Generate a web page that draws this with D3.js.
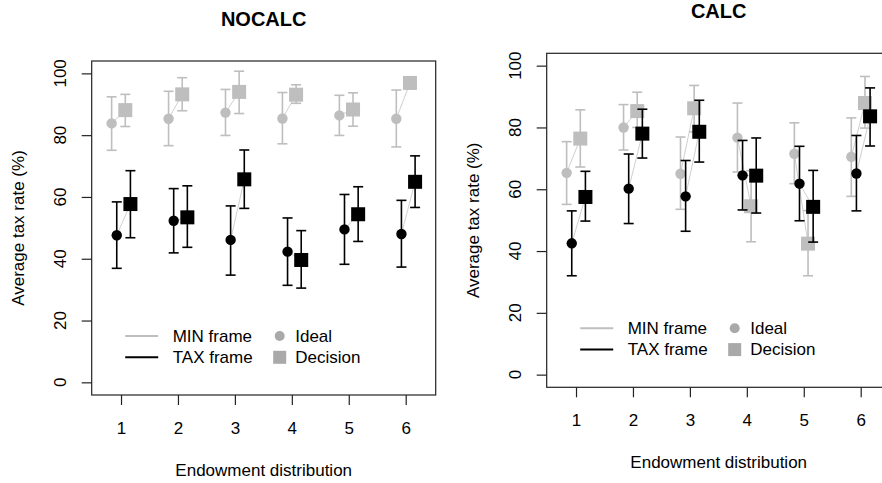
<!DOCTYPE html>
<html>
<head>
<meta charset="utf-8">
<script src="https://cdn.jsdelivr.net/npm/d3@7"></script>
<style>
  body { margin: 0; background: #fff; }
  text { font-family: "Liberation Sans", Arial, sans-serif; }
</style>
</head>
<body>
<div id="chart"></div>
<script>
// Endowment distributions on the x axis
const categories = [1, 2, 3, 4, 5, 6];
const yTicks = [0, 20, 40, 60, 80, 100];

// NOCALC panel
const nocalcMinIdeal = [83.8, 85.3, 87.3, 85.4, 86.4, 85.3];
const nocalcMinIdealLo = [75.1, 76.6, 79.9, 77.2, 79.9, 76.2];
const nocalcMinIdealHi = [92.4, 94.2, 94.8, 93.8, 92.9, 94.6];
const nocalcMinDecision = [88.1, 93.2, 94.0, 93.1, 88.3, 96.9];
const nocalcMinDecisionLo = [82.8, 87.9, 87.0, 90.3, 82.9, 95.5];
const nocalcMinDecisionHi = [93.2, 98.6, 100.7, 96.3, 93.7, 98.3];
const nocalcTaxIdeal = [47.6, 52.3, 46.1, 42.3, 49.5, 48.0];
const nocalcTaxIdealLo = [36.9, 41.9, 34.7, 31.4, 38.2, 37.3];
const nocalcTaxIdealHi = [58.4, 62.7, 57.1, 53.2, 60.8, 58.9];
const nocalcTaxDecision = [57.7, 53.4, 65.7, 39.6, 54.4, 64.9];
const nocalcTaxDecisionLo = [46.8, 43.7, 56.3, 30.5, 45.6, 56.6];
const nocalcTaxDecisionHi = [68.5, 63.6, 75.2, 49.1, 63.3, 73.3];

// CALC panel
const calcMinIdeal = [65.3, 80.0, 65.0, 76.7, 71.5, 70.5];
const calcMinIdealLo = [55.1, 72.7, 53.5, 65.6, 61.8, 57.7];
const calcMinIdealHi = [75.4, 87.4, 76.9, 87.9, 81.5, 83.1];
const calcMinDecision = [76.4, 85.3, 86.2, 54.5, 42.4, 87.9];
const calcMinDecisionLo = [67.2, 80.0, 78.6, 43.0, 32.0, 79.8];
const calcMinDecisionHi = [85.7, 91.4, 93.6, 66.0, 53.1, 96.5];
const calcTaxIdeal = [42.5, 60.2, 57.7, 64.5, 61.8, 65.1];
const calcTaxIdealLo = [32.0, 48.9, 46.4, 53.3, 49.8, 53.0];
const calcTaxIdealHi = [53.0, 71.4, 69.3, 75.8, 73.9, 77.4];
const calcTaxDecision = [57.5, 78.0, 78.6, 64.4, 54.3, 83.6];
const calcTaxDecisionLo = [49.7, 70.1, 68.8, 52.3, 42.9, 74.0];
const calcTaxDecisionHi = [65.8, 85.9, 88.8, 76.6, 66.1, 92.8];

const W = 882, H = 483;
const plotW = 344, plotH = 334;
const grey = '#bebebe';
const legendGrey = '#a9a9a9';

const svg = d3.select('#chart')
    .append('svg')
    .attr('width', W)
    .attr('height', H);

function series(vals, lo, hi) {
    return categories.map((c, i) => ({ c, v: vals[i], lo: lo[i], hi: hi[i] }));
}

function drawPanel(left, top, title, frames) {
    const g = svg.append('g').attr('transform', `translate(${left},${top})`);

    const x = d3.scaleLinear().domain([0.485, 6.527]).range([0, plotW]);
    const y = d3.scaleLinear().domain([-4.1, 104]).range([plotH, 0]);

    // Frames: MIN first, TAX on top
    frames.forEach(f => {
        const ideal = f.ideal, dec = f.decision;

        // thin connecting lines ideal -> decision
        g.selectAll(null)
            .data(categories.map((c, i) => [ideal[i], dec[i]]))
            .enter()
            .append('line')
            .attr('x1', d => x(d[0].c + f.offIdeal))
            .attr('y1', d => y(d[0].v))
            .attr('x2', d => x(d[1].c + f.offDecision))
            .attr('y2', d => y(d[1].v))
            .attr('stroke', '#d0d0d0')
            .attr('stroke-width', 1);

        // error bars
        [[ideal, f.offIdeal], [dec, f.offDecision]].forEach(([s, off]) => {
            const eb = g.append('g')
                .attr('stroke', f.color)
                .attr('stroke-width', 1.6);
            eb.selectAll(null).data(s).enter().append('line')
                .attr('x1', d => x(d.c + off)).attr('x2', d => x(d.c + off))
                .attr('y1', d => y(d.lo)).attr('y2', d => y(d.hi));
            eb.selectAll(null).data(s).enter().append('line')
                .attr('x1', d => x(d.c + off) - 5).attr('x2', d => x(d.c + off) + 5)
                .attr('y1', d => y(d.lo)).attr('y2', d => y(d.lo));
            eb.selectAll(null).data(s).enter().append('line')
                .attr('x1', d => x(d.c + off) - 5).attr('x2', d => x(d.c + off) + 5)
                .attr('y1', d => y(d.hi)).attr('y2', d => y(d.hi));
        });

        // points
        g.selectAll(null).data(ideal).enter().append('circle')
            .attr('cx', d => x(d.c + f.offIdeal))
            .attr('cy', d => y(d.v))
            .attr('r', 5.2)
            .attr('fill', f.color);
        g.selectAll(null).data(dec).enter().append('rect')
            .attr('x', d => x(d.c + f.offDecision) - 7)
            .attr('y', d => y(d.v) - 7)
            .attr('width', 14)
            .attr('height', 14)
            .attr('fill', f.color);
    });

    // Box
    g.append('rect')
        .attr('width', plotW)
        .attr('height', plotH)
        .attr('fill', 'none')
        .attr('stroke', '#222')
        .attr('stroke-width', 1.2);

    // Y axis (tick marks from d3, labels drawn rotated like R)
    const yAxis = g.append('g')
        .call(d3.axisLeft(y).tickValues(yTicks).tickSize(10).tickFormat(''));
    yAxis.select('.domain').remove();
    yAxis.selectAll('.tick line').attr('stroke', '#222').attr('stroke-width', 1.2);
    g.selectAll(null)
        .data(yTicks)
        .enter()
        .append('text')
        .attr('transform', d => `translate(-31.7,${y(d)}) rotate(-90)`)
        .attr('text-anchor', 'middle')
        .attr('dominant-baseline', 'central')
        .style('font-size', '17px')
        .text(d => d);

    // X axis
    const xAxis = g.append('g')
        .attr('transform', `translate(0,${plotH})`)
        .call(d3.axisBottom(x).tickValues(categories).tickSize(10).tickFormat(d3.format('d')));
    xAxis.select('.domain').remove();
    xAxis.selectAll('.tick line').attr('stroke', '#222').attr('stroke-width', 1.2);
    xAxis.selectAll('.tick text')
        .attr('y', 33).attr('dy', 0)
        .attr('dominant-baseline', 'central')
        .style('font-size', '17px')
        .attr('fill', '#000');

    // Titles
    g.append('text')
        .attr('x', plotW / 2).attr('y', -42)
        .attr('text-anchor', 'middle')
        .attr('dominant-baseline', 'central')
        .style('font-size', '20px')
        .style('font-weight', 'bold')
        .text(title);
    g.append('text')
        .attr('x', plotW / 2).attr('y', plotH + 75)
        .attr('text-anchor', 'middle')
        .attr('dominant-baseline', 'central')
        .style('font-size', '17px')
        .text('Endowment distribution');
    g.append('text')
        .attr('transform', `translate(-73,${plotH / 2}) rotate(-90)`)
        .attr('text-anchor', 'middle')
        .attr('dominant-baseline', 'central')
        .style('font-size', '17px')
        .text('Average tax rate (%)');

    // Legend
    const lg = g.append('g').attr('transform', 'translate(33.5,275)');
    const rows = [
        { label: 'MIN frame', color: grey, sym: 'Ideal' },
        { label: 'TAX frame', color: '#000', sym: 'Decision' }
    ];
    rows.forEach((r, i) => {
        const yy = i * 21.3;
        lg.append('line')
            .attr('x1', 0).attr('x2', 33)
            .attr('y1', yy).attr('y2', yy)
            .attr('stroke', r.color)
            .attr('stroke-width', 2);
        lg.append('text')
            .attr('x', 47.5).attr('y', yy)
            .attr('dominant-baseline', 'central')
            .style('font-size', '17px')
            .text(r.label);
        if (i === 0) {
            lg.append('circle').attr('cx', 154.5).attr('cy', yy).attr('r', 5).attr('fill', legendGrey);
        } else {
            lg.append('rect').attr('x', 148).attr('y', yy - 6.5).attr('width', 13).attr('height', 13).attr('fill', legendGrey);
        }
        lg.append('text')
            .attr('x', 170).attr('y', yy)
            .attr('dominant-baseline', 'central')
            .style('font-size', '17px')
            .text(r.sym);
    });
}

drawPanel(91.7, 61, 'NOCALC', [
    { color: grey, offIdeal: -0.165, offDecision: 0.075,
      ideal: series(nocalcMinIdeal, nocalcMinIdealLo, nocalcMinIdealHi),
      decision: series(nocalcMinDecision, nocalcMinDecisionLo, nocalcMinDecisionHi) },
    { color: '#000', offIdeal: -0.075, offDecision: 0.165,
      ideal: series(nocalcTaxIdeal, nocalcTaxIdealLo, nocalcTaxIdealHi),
      decision: series(nocalcTaxDecision, nocalcTaxDecisionLo, nocalcTaxDecisionHi) }
]);

drawPanel(546.7, 53.3, 'CALC', [
    { color: grey, offIdeal: -0.165, offDecision: 0.075,
      ideal: series(calcMinIdeal, calcMinIdealLo, calcMinIdealHi),
      decision: series(calcMinDecision, calcMinDecisionLo, calcMinDecisionHi) },
    { color: '#000', offIdeal: -0.075, offDecision: 0.165,
      ideal: series(calcTaxIdeal, calcTaxIdealLo, calcTaxIdealHi),
      decision: series(calcTaxDecision, calcTaxDecisionLo, calcTaxDecisionHi) }
]);
</script>
</body>
</html>
